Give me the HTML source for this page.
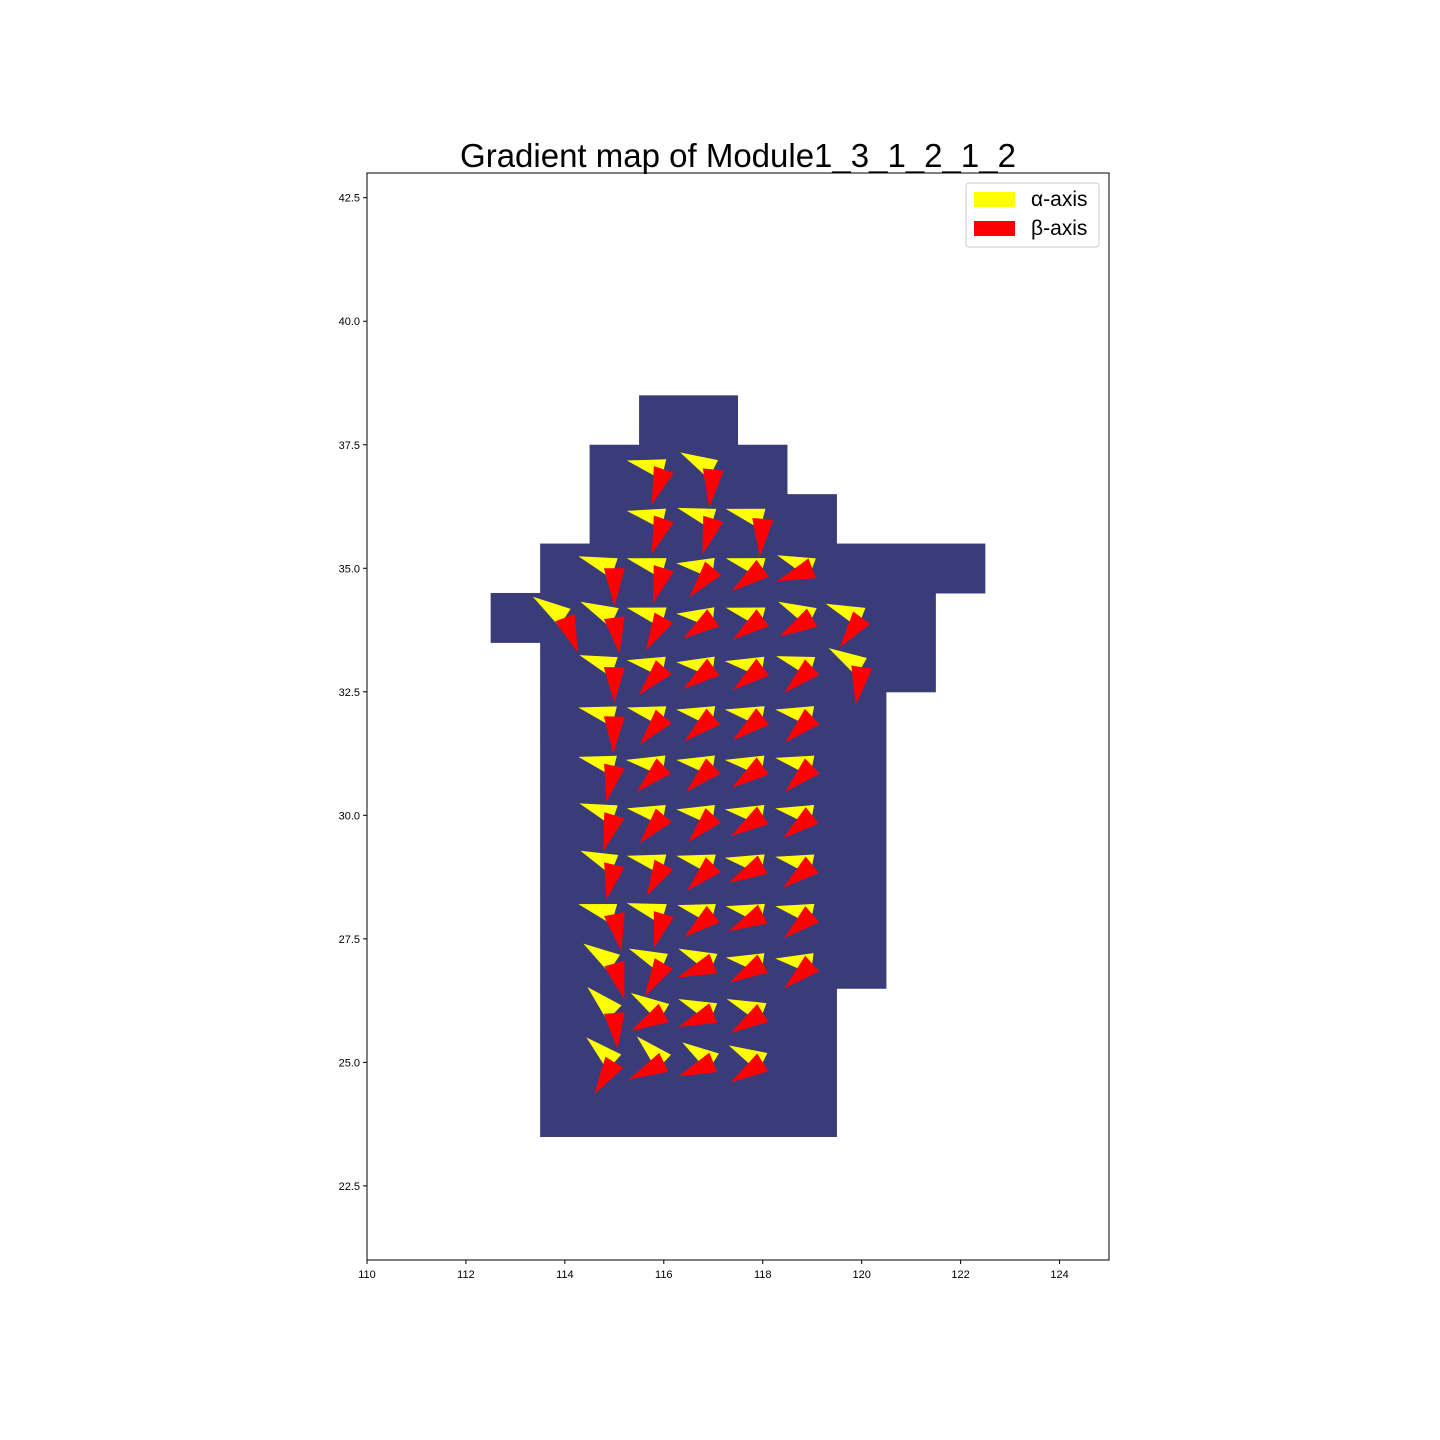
<!DOCTYPE html>
<html><head><meta charset="utf-8"><style>
html,body{margin:0;padding:0;background:#fff;}
svg{display:block;font-family:"Liberation Sans","DejaVu Sans",sans-serif;}
</style></head><body>
<svg id="chart" width="1440" height="1440" viewBox="0 0 1440 1440" xmlns="http://www.w3.org/2000/svg">
<rect x="0" y="0" width="1440" height="1440" fill="#fff"/>
<text x="738" y="167" font-size="33" text-anchor="middle" fill="#000">Gradient map of Module1_3_1_2_1_2</text>
<g id="cells"></g>
<g id="arrows"></g>
<rect x="367" y="173" width="742" height="1087" fill="none" stroke="#000" stroke-width="1"/>
<g id="xaxis"></g>
<g id="yaxis"></g>
<g>
<rect x="966" y="183" width="133" height="64" rx="3" fill="#fff" fill-opacity="0.8" stroke="#ccc"/>
<rect x="974" y="192" width="41" height="15" fill="#ffff00"/>
<text x="1031" y="206" font-size="21" fill="#000">α-axis</text>
<rect x="974" y="221" width="41" height="15" fill="#ff0000"/>
<text x="1031" y="235" font-size="21" fill="#000">β-axis</text>
</g>
</svg>
<script>
// region rows: y center, xmin cell, xmax cell
const rowY   = [38,37,36,35,34,33,32,31,30,29,28,27,26,25,24];
const rowXmin= [116,115,115,114,113,114,114,114,114,114,114,114,114,114,114];
const rowXmax= [117,118,119,122,121,121,120,120,120,120,120,120,119,119,119];
// arrow positions
const arrowX = [116,117, 116,117,118, 115,116,117,118,119, 114,115,116,117,118,119,120, 115,116,117,118,119,120,
 115,116,117,118,119, 115,116,117,118,119, 115,116,117,118,119, 115,116,117,118,119, 115,116,117,118,119, 115,116,117,118,119, 115,116,117,118, 115,116,117,118];
const arrowY = [37,37, 36,36,36, 35,35,35,35,35, 34,34,34,34,34,34,34, 33,33,33,33,33,33,
 32,32,32,32,32, 31,31,31,31,31, 30,30,30,30,30, 29,29,29,29,29, 28,28,28,28,28, 27,27,27,27,27, 26,26,26,26, 25,25,25,25];
// alpha-axis vector components (x right, y up)
const alphaU = [-37,-33, -37,-36,-37, -36,-37,-37,-37,-35, -32,-34,-37,-37,-37,-34,-36, -35,-37,-37,-38,-36,-33,
 -36,-37,-37,-38,-37, -36,-38,-37,-38,-37, -35,-37,-37,-38,-37, -34,-37,-37,-38,-37, -36,-37,-36,-37,-37, -31,-35,-35,-37,-37, -27,-33,-35,-36, -28,-27,-31,-34];
const alphaV = [9,17, 8,11,10, 12,10,5,10,13, 21,16,10,4,10,16,14, 12,7,5,6,11,19,
 9,9,7,7,7, 9,6,6,6,8, 12,7,6,6,7, 14,9,9,7,8, 10,11,9,8,8, 20,15,15,6,5, 26,20,14,14, 25,26,20,17];
// beta-axis vector components
const betaU = [-12,-4, -12,-11,-3, 0,-11,-24,-31,-35, 13,5,-18,-30,-30,-33,-22, 0,-25,-30,-30,-28,-6,
 -1,-24,-29,-30,-27, -8,-27,-27,-31,-27, -11,-24,-25,-32,-29, -8,-17,-26,-34,-29, 7,-10,-29,-34,-28, 10,-19,-36,-33,-28, 3,-33,-35,-32, -20,-35,-35,-32];
const betaV = [-35,-38, -35,-36,-38, -38,-35,-29,-23,-13, -35,-36,-33,-21,-22,-19,-30, -36,-28,-22,-23,-26,-38,
 -37,-28,-25,-24,-26, -36,-26,-26,-22,-26, -36,-28,-27,-21,-23, -35,-31,-26,-18,-23, -37,-34,-23,-17,-24, -36,-33,-14,-19,-25, -36,-18,-14,-20, -32,-17,-14,-20];
const xTicks = [110,112,114,116,118,120,122,124];
const yTicks = [22.5,25.0,27.5,30.0,32.5,35.0,37.5,40.0,42.5];

const NS='http://www.w3.org/2000/svg';
const X0=110,X1=125,Y0=21,Y1=43,L=367,R=1109,T=173,B=1260;
function sx(x){return L+(x-X0)*(R-L)/(X1-X0);}
function sy(y){return B-(y-Y0)*(B-T)/(Y1-Y0);}
const PXU=(R-L)/(X1-X0);
function mk(tag,attrs,parent){const e=document.createElementNS(NS,tag);for(const k in attrs)e.setAttribute(k,attrs[k]);parent.appendChild(e);return e;}

const cells=document.getElementById('cells');
for(let i=0;i<rowY.length;i++){
  const r=mk('rect',{x:sx(rowXmin[i]-0.5),y:sy(rowY[i]+0.5),width:sx(rowXmax[i]+0.5)-sx(rowXmin[i]-0.5),height:sy(rowY[i]-0.5)-sy(rowY[i]+0.5)+0.5,fill:'#3a3b79'},cells);
  
  
}
const arrows=document.getElementById('arrows');
function tri(i,u,v,color,name){
  const bx=sx(arrowX[i]),by=sy(arrowY[i]);
  const tx=sx(arrowX[i]+u/PXU),ty=sy(arrowY[i]+v/PXU);
  const dx=tx-bx,dy=ty-by,len=Math.hypot(dx,dy)||1;
  const hw=10.5,px=-dy/len*hw,py=dx/len*hw;
  const p=mk('polygon',{points:`${bx+px},${by+py} ${bx-px},${by-py} ${tx},${ty}`,fill:color},arrows);
  
  
}
for(let i=0;i<arrowX.length;i++){tri(i,alphaU[i],alphaV[i],'#ffff00','alpha-arrow');}
for(let i=0;i<arrowX.length;i++){tri(i,betaU[i],betaV[i],'#ff0000','beta-arrow');}

const xa=document.getElementById('xaxis');
xTicks.forEach(t=>{
  const x=sx(t);
  const l=mk('line',{x1:x,x2:x,y1:B,y2:B+4,stroke:'#000'},xa);
  
  
  const s=mk('text',{x:x,y:B+18,'font-size':11,'text-anchor':'middle',fill:'#000'},xa);
  s.textContent=t;
  
  
});
const ya=document.getElementById('yaxis');
yTicks.forEach(t=>{
  const y=sy(t);
  const l=mk('line',{x1:L-4,x2:L,y1:y,y2:y,stroke:'#000'},ya);
  
  
  const s=mk('text',{x:L-7,y:y+4,'font-size':11,'text-anchor':'end',fill:'#000'},ya);
  s.textContent=t.toFixed(1);
  
  
});
</script>
</body></html>
